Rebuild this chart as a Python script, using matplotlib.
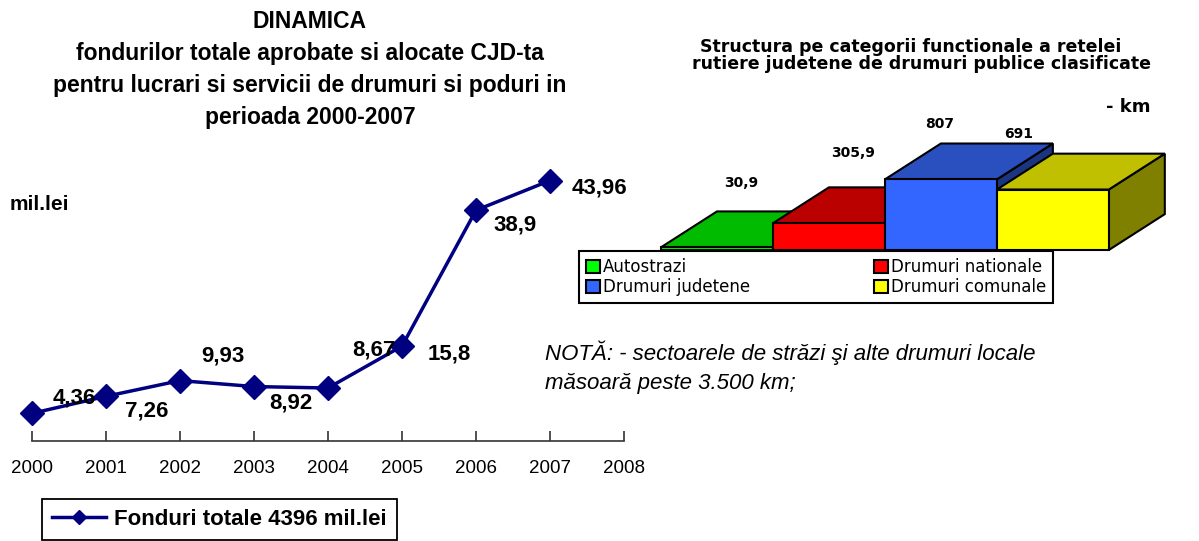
import numpy as np
import matplotlib.pyplot as plt
from matplotlib.patches import Polygon, Patch

plt.rcParams['font.family'] = ['Liberation Sans', 'DejaVu Sans']

W, H = 1199, 541

# left chart - total funds per year (mil. lei)
years = [2000, 2001, 2002, 2003, 2004, 2005, 2006, 2007]
funds = [4.36, 7.26, 9.93, 8.92, 8.67, 15.8, 38.9, 43.96]
fund_labels = ['4,36', '7,26', '9,93', '8,92', '8,67', '15,8', '38,9', '43,96']
year_ticks = list(range(2000, 2009))

# right chart - road network by functional category (km)
categories = ['Autostrazi', 'Drumuri nationale', 'Drumuri judetene', 'Drumuri comunale']
lengths = [30.9, 305.9, 807, 691]
length_labels = ['30,9', '305,9', '807', '691']

# label offsets in pixels (as placed in the original)
fund_offsets = [(42, 15), (41, -15), (43, 25), (37, -16), (46, 38), (47, -8), (39, -15), (49, -7)]
length_offsets = [(-4, 28), (-4, 34), (-29, 20), (-62, 20)]

front_colors = ['#00ff00', '#ff0000', '#3366ff', '#ffff00']
top_colors = ['#00bb00', '#bb0000', '#2a50c0', '#c0c000']
side_colors = ['#008000', '#800000', '#1c3580', '#808000']

wide = ['DejaVu Sans']  # the right-hand chart uses loosely spaced lettering


def fx(px):
    return px / W


def fy(py):
    return 1 - py / H


fig = plt.figure(figsize=(W / 100, H / 100), dpi=100)

# ---------------- left: line chart ----------------
ax1 = fig.add_axes([fx(32), fy(441), 592 / W, (441 - 150) / H])
line, = ax1.plot(years, funds, color='#000080', lw=2.5, marker='D', ms=12.5,
                 clip_on=False, label='Fonduri totale 4396 mil.lei')
for yr, v, txt, off in zip(years, funds, fund_labels, fund_offsets):
    ax1.annotate(txt, (yr, v), xytext=off, textcoords='offset pixels',
                 ha='center', va='center', fontsize=16, fontweight='bold')

ax1.set_xlim(2000, 2008)
ax1.set_ylim(-0.34, 49.15)
ax1.set_xticks(year_ticks)
ax1.set_yticks([])
for s in ['left', 'right', 'top']:
    ax1.spines[s].set_visible(False)
ax1.spines['bottom'].set_linewidth(1.2)
ax1.spines['bottom'].set_color('#333333')
ax1.tick_params(axis='x', direction='in', length=7, width=1.2, color='#333333',
                pad=14, labelsize=13.5)
ax1.patch.set_visible(False)

fig.text(fx(310), fy(69), 'DINAMICA\nfondurilor totale aprobate si alocate CJD-ta\n'
         'pentru lucrari si servicii de drumuri si poduri in\nperioada 2000-2007',
         ha='center', va='center', fontsize=16.5, fontweight='bold', linespacing=1.5)
fig.text(fx(10), fy(205), 'mil.lei', ha='left', va='center', fontsize=15, fontweight='bold')

leg1 = fig.legend(handles=[line], loc='upper left', bbox_to_anchor=(fx(42), fy(499)),
                  prop={'weight': 'bold', 'size': 16}, fancybox=False, edgecolor='black',
                  framealpha=1, handlelength=2.45, borderpad=0.45, handletextpad=0.35,
                  borderaxespad=0, markerscale=0.6)
leg1.get_frame().set_linewidth(1.3)

# ---------------- right: pseudo 3D bars ----------------
ax2 = fig.add_axes([fx(661), fy(250), 515 / W, 140 / H])
ax2.set_xlim(0, 4.6)
ax2.set_ylim(0, 1600)
ax2.axis('off')

depth_x, depth_y = 0.5, 410
xs = np.arange(len(lengths))
bars = ax2.bar(xs, lengths, width=1, align='edge', color=front_colors,
               edgecolor='black', linewidth=1.5, clip_on=False)
for i, (x, v) in enumerate(zip(xs, lengths)):
    top = Polygon([(x, v), (x + 1, v), (x + 1 + depth_x, v + depth_y), (x + depth_x, v + depth_y)],
                  closed=True, facecolor=top_colors[i], edgecolor='black', lw=1.5,
                  zorder=2 + 3 * i, clip_on=False)
    side = Polygon([(x + 1, 0), (x + 1, v), (x + 1 + depth_x, v + depth_y), (x + 1 + depth_x, depth_y)],
                   closed=True, facecolor=side_colors[i], edgecolor='black', lw=1.5,
                   zorder=2 + 3 * i, clip_on=False)
    ax2.add_patch(side)
    ax2.add_patch(top)
    bars[i].set_zorder(3 + 3 * i)
    ax2.annotate(length_labels[i], (x + 0.5 + depth_x / 2, v + depth_y),
                 xytext=length_offsets[i], textcoords='offset pixels',
                 ha='center', va='center', fontsize=10, fontweight='bold', family=wide)

fig.text(fx(911), fy(47), 'Structura pe categorii functionale a retelei',
         ha='center', va='center', fontsize=12.5, fontweight='bold', family=wide)
fig.text(fx(921), fy(64), 'rutiere judetene de drumuri publice clasificate',
         ha='center', va='center', fontsize=12.5, fontweight='bold', family=wide)
fig.text(fx(1106), fy(107), '- km', ha='left', va='center', fontsize=13,
         fontweight='bold', family=wide)

order = [0, 2, 1, 3]
handles = [Patch(facecolor=front_colors[i], edgecolor='black', lw=1.5, label=categories[i])
           for i in order]
leg2 = fig.legend(handles=handles, ncol=2, loc='upper left',
                  bbox_to_anchor=(fx(579), fy(297), (1053 - 579) / W, 46 / H), mode='expand',
                  prop={'family': wide, 'size': 12}, handlelength=0.85, handleheight=0.85,
                  handletextpad=0.15, labelspacing=0.12, borderpad=0.42, fancybox=False,
                  edgecolor='black', framealpha=1, borderaxespad=0)
leg2.get_frame().set_linewidth(1.5)

fig.text(fx(545), fy(367), 'NOTĂ: - sectoarele de străzi şi alte drumuri locale\n'
         'măsoară peste 3.500 km;', ha='left', va='center', fontsize=16,
         style='italic', linespacing=1.52)

fig.savefig('out.png', dpi=100)
